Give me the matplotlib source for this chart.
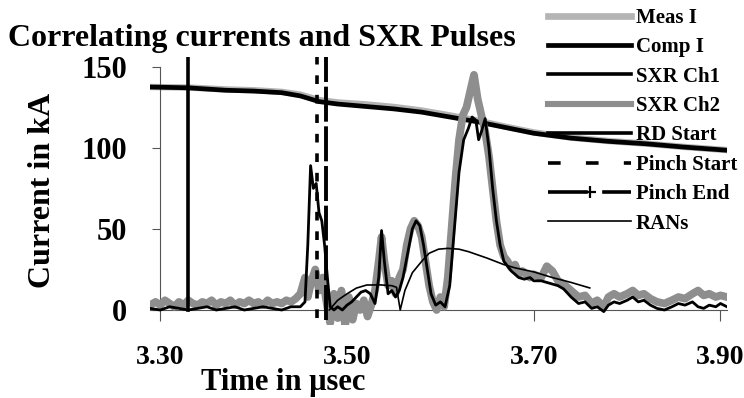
"""Correlating currents and SXR pulses."""
import matplotlib
matplotlib.use("Agg")
from matplotlib import pyplot as plt
from matplotlib.lines import Line2D

# Current traces (kA) vs time (usec)
cur_t  = [3.289, 3.33, 3.37, 3.40, 3.43, 3.45, 3.47, 3.49, 3.52, 3.55, 3.58,
          3.61, 3.64, 3.67, 3.70, 3.74, 3.78, 3.82, 3.86, 3.907]
comp_i = [137.5, 137, 135.5, 135, 134, 132, 128.5, 127, 125.5, 124, 122,
          119, 116, 112.5, 109, 106, 104, 102.5, 100.5, 98.5]
meas_i = [137.5, 137.2, 136, 135.5, 134.5, 132.8, 129.5, 128, 126.8, 125.2, 123,
          120, 116.8, 113, 109.5, 106.3, 104.2, 102.6, 100.6, 98.6]

# SXR channel 2 (grey)
ch2_t = [3.289, 3.295, 3.300, 3.305, 3.310, 3.315, 3.320, 3.325, 3.330, 3.335,
         3.340, 3.345, 3.350, 3.355, 3.360, 3.365, 3.370, 3.375, 3.380, 3.385,
         3.390, 3.395, 3.400, 3.405, 3.410, 3.415, 3.420, 3.425, 3.430, 3.435,
         3.440, 3.445, 3.450, 3.455, 3.458, 3.462, 3.466, 3.470, 3.474, 3.478,
         3.482, 3.486, 3.490, 3.494, 3.498, 3.502, 3.506, 3.510, 3.514, 3.518,
         3.522, 3.526, 3.530, 3.534, 3.537, 3.540, 3.544, 3.548, 3.552, 3.556,
         3.560, 3.564, 3.568, 3.572, 3.576, 3.580, 3.584, 3.588, 3.592, 3.596,
         3.600, 3.604, 3.608, 3.612, 3.616, 3.620, 3.624, 3.628, 3.632, 3.636,
         3.640, 3.644, 3.648, 3.652, 3.656, 3.660, 3.664, 3.668, 3.672, 3.676,
         3.680, 3.684, 3.688, 3.692, 3.696, 3.700, 3.708, 3.714, 3.720, 3.726,
         3.732, 3.740, 3.748, 3.755, 3.762, 3.768, 3.775, 3.780, 3.786, 3.792,
         3.800, 3.806, 3.812, 3.818, 3.825, 3.832, 3.840, 3.848, 3.855, 3.862,
         3.870, 3.876, 3.882, 3.888, 3.895, 3.900, 3.907]
ch2_v = [3, 5, 3, 6, 4, 2, 5, 3, 6, 4,
         3, 5, 4, 6, 3, 5, 4, 6, 3, 5,
         4, 6, 4, 5, 3, 6, 4, 5, 4, 6,
         5, 7, 10, 20, 8, 18, 25, 12, 20, 5,
         -8, 10, -5, 12, -10, 8, -6, 4, 0, 6,
         -4, 3, 12, 30, 45, 30, 15, 18, 10, 20,
         25, 40, 50, 55, 52, 45, 30, 15, 5, 0,
         8, 2, 20, 50, 80, 105, 120, 125, 135, 145,
         130, 120, 110, 95, 75, 55, 40, 33, 30, 26,
         28, 22, 24, 22, 20, 22, 20, 27, 24, 18,
         16, 12, 8, 9, 4, 6, 2, 8, 10, 8,
         10, 12, 9, 10, 7, 5, 4, 6, 8, 7,
         10, 12, 9, 10, 8, 9, 8]

# SXR channel 1 (black)
ch1_t = [3.289, 3.300, 3.310, 3.320, 3.330, 3.340, 3.350, 3.360, 3.370, 3.380,
         3.390, 3.400, 3.410, 3.420, 3.430, 3.440, 3.450, 3.455, 3.458, 3.461,
         3.464, 3.467, 3.470, 3.473, 3.476, 3.479, 3.482, 3.486, 3.490, 3.495,
         3.500, 3.505, 3.510, 3.515, 3.520, 3.525, 3.530, 3.534, 3.537, 3.540,
         3.544, 3.548, 3.552, 3.556, 3.560, 3.565, 3.570, 3.574, 3.578, 3.582,
         3.586, 3.590, 3.595, 3.600, 3.605, 3.610, 3.615, 3.620, 3.625, 3.630,
         3.634, 3.638, 3.641, 3.644, 3.648, 3.652, 3.656, 3.660, 3.664, 3.668,
         3.672, 3.676, 3.680, 3.684, 3.690, 3.696, 3.700, 3.708, 3.714, 3.720,
         3.726, 3.732, 3.740, 3.748, 3.755, 3.762, 3.768, 3.775, 3.780, 3.786,
         3.792, 3.800, 3.806, 3.812, 3.818, 3.825, 3.832, 3.840, 3.848, 3.855,
         3.862, 3.870, 3.876, 3.882, 3.888, 3.895, 3.900, 3.907]
ch1_v = [1, 0, 2, 1, 0, 1, 2, 0, 1, 2,
         0, 1, 2, 1, 0, 2, 2, 5, 40, 89,
         75, 78, 60, 55, 40, 20, 2, 0, 2, 0,
         3, 5, 8, 11, 12, 10, 4, 20, 49, 30,
         10, 12, 8, 12, 20, 35, 50, 55, 52, 40,
         25, 10, 3, 5, 2, 15, 50, 85, 105, 112,
         119, 117, 105, 110, 118, 100, 75, 55, 40, 30,
         27, 24, 22, 20, 19, 20, 18, 18, 17, 16,
         15, 13, 8, 4, 5, 1, 2, -1, 3, 5,
         4, 6, 8, 5, 6, 3, 1, 0, 2, 4,
         3, 5, 2, 1, 3, 2, 4, 2]

# RANs curve
rans_t = [3.481, 3.490, 3.500, 3.510, 3.521, 3.535, 3.548, 3.553, 3.557,
          3.562, 3.570, 3.580, 3.588, 3.598, 3.608, 3.620, 3.630, 3.650,
          3.668, 3.680, 3.700, 3.720, 3.740, 3.760]
rans_v = [0, 6, 10, 13.5, 15.4, 15.5, 15, 14, 0,
          12, 23, 30, 35, 37.5, 38, 37.5, 36, 32,
          28, 26, 23.5, 20, 17, 13.6]

# Event markers (usec)
rd_start = 3.33
pinch_start = 3.468
pinch_end = 3.478

labels = ["Meas I", "Comp I", "SXR Ch1", "SXR Ch2", "RD Start",
          "Pinch Start", "Pinch End", "RANs"]

plt.rcParams['font.family'] = ['Liberation Serif', 'DejaVu Serif']
plt.rcParams['font.weight'] = 'bold'

fig = plt.figure(figsize=(7.44, 3.98), dpi=100)
ax = fig.add_axes([150 / 744, 1 - 324.6 / 398, (727 - 150) / 744, (324.6 - 57) / 398])

pinch_dash = (0, (9, 1.2))
start_dash = (0, (2.4, 3.0))

ax.plot(cur_t, meas_i, color='#b4b4b4', lw=4.6, zorder=2)
ax.plot(cur_t, comp_i, color='black', lw=3.4, zorder=3)
ax.plot(ch2_t, ch2_v, color='#8e8e8e', lw=5.6, zorder=4)
ax.plot(ch1_t, ch1_v, color='black', lw=2.0, zorder=5)
ax.plot([rd_start, rd_start], [0, 156], color='black', lw=2.6, zorder=6)
ax.plot([pinch_start, pinch_start], [-5, 156], color='black', lw=2.6,
        linestyle=start_dash, zorder=6)
ax.plot([pinch_end, pinch_end], [-6, 156], color='black', lw=2.8,
        linestyle=pinch_dash, zorder=6)
ax.plot(rans_t, rans_v, color='black', lw=1.2, zorder=7)

ax.set_xlim(3.289, 3.907)
ax.set_ylim(-9, 156)

for s in ['top', 'right']:
    ax.spines[s].set_visible(False)
ax.spines['left'].set_position(('data', 3.30))
ax.spines['left'].set_bounds(0, 150)
ax.spines['bottom'].set_position(('data', 0))
for s in ['left', 'bottom']:
    ax.spines[s].set_color('#555555')
    ax.spines[s].set_linewidth(0.8)

ax.set_yticks([0, 50, 100, 150])
ax.set_yticklabels(['0', '50', '100', '150'])
ax.set_xticks([3.30, 3.50, 3.70, 3.90])
ax.set_xticklabels(['3.30', '3.50', '3.70', '3.90'])
ax.tick_params(axis='y', direction='out', length=6, width=0.8, color='#555555',
               pad=18, labelsize=22)
ax.tick_params(axis='x', direction='out', length=8, width=0.8, color='#555555',
               pad=17, labelsize=20)

fig.text(8 / 744, 1 - 46 / 398, "Correlating currents and SXR Pulses",
         fontsize=23, fontweight='bold', ha='left', va='baseline')
fig.text(283 / 744, 1 - 390 / 398, "Time in \u03bcsec", fontsize=22,
         fontweight='bold', ha='center', va='baseline')
fig.text(43 / 744, 1 - 190 / 398, "Current in kA", fontsize=23,
         fontweight='bold', ha='center', va='center', rotation=90)

handles = [
    Line2D([], [], color='#b4b4b4', lw=4.8),
    Line2D([], [], color='black', lw=3.4),
    Line2D([], [], color='black', lw=2.6),
    Line2D([], [], color='#8e8e8e', lw=4.4),
    Line2D([], [], color='black', lw=2.6),
    Line2D([], [], color='black', lw=2.6, linestyle=(0, (3.5, 7))),
    Line2D([], [], color='black', lw=2.6, linestyle=(0, (11, 4)),
           marker='+', markersize=9, markeredgewidth=1.6),
    Line2D([], [], color='black', lw=1.2),
]
fig.legend(handles, labels, loc='upper left', bbox_to_anchor=(548 / 744, 1 - 8 / 398),
           frameon=False, fontsize=15, handlelength=4.0, handletextpad=0.2,
           labelspacing=0.45, borderpad=0, borderaxespad=0, numpoints=1)

fig.savefig("out.png", dpi=100)
